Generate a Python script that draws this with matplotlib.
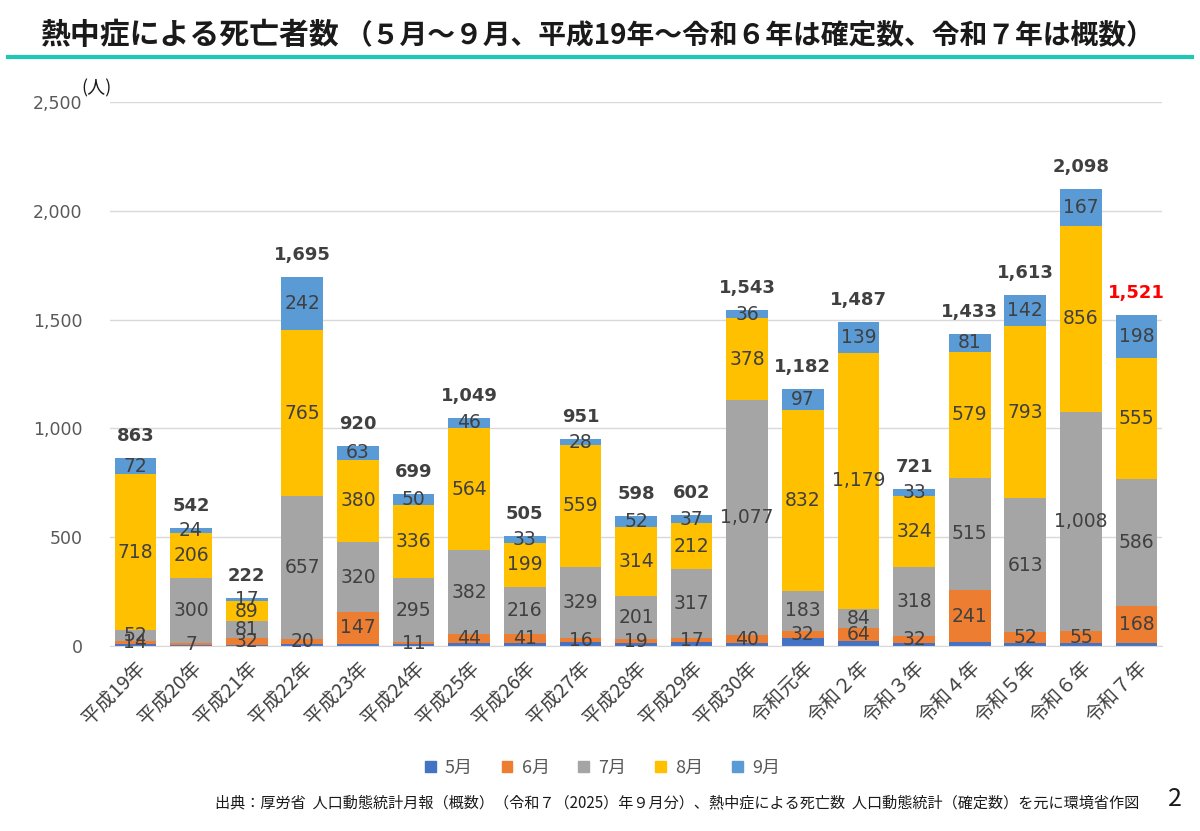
import matplotlib
matplotlib.use("Agg")
import matplotlib.pyplot as plt
import numpy as np
from matplotlib.lines import Line2D

plt.rcParams['font.family'] = ['Noto Sans CJK JP', 'DejaVu Sans']

# data (deaths by month, May-Sep)
years = ['平成19年', '平成20年', '平成21年', '平成22年', '平成23年', '平成24年', '平成25年',
         '平成26年', '平成27年', '平成28年', '平成29年', '平成30年', '令和元年', '令和２年',
         '令和３年', '令和４年', '令和５年', '令和６年', '令和７年']
may = [7, 5, 3, 11, 10, 7, 13, 16, 19, 12, 19, 12, 38, 21, 14, 17, 13, 12, 14]
jun = [14, 7, 32, 20, 147, 11, 44, 41, 16, 19, 17, 40, 32, 64, 32, 241, 52, 55, 168]
jul = [52, 300, 81, 657, 320, 295, 382, 216, 329, 201, 317, 1077, 183, 84, 318, 515, 613, 1008, 586]
aug = [718, 206, 89, 765, 380, 336, 564, 199, 559, 314, 212, 378, 832, 1179, 324, 579, 793, 856, 555]
sep = [72, 24, 17, 242, 63, 50, 46, 33, 28, 52, 37, 36, 97, 139, 33, 81, 142, 167, 198]
totals = [863, 542, 222, 1695, 920, 699, 1049, 505, 951, 598, 602, 1543, 1182, 1487, 721, 1433, 1613, 2098, 1521]

months = ['5月', '6月', '7月', '8月', '9月']
colors = ['#4472C4', '#ED7D31', '#A5A5A5', '#FFC000', '#5B9BD5']
series = [may, jun, jul, aug, sep]

fig = plt.figure(figsize=(12, 8.31), dpi=100)
ax = fig.add_axes([0.092, 0.2226, 0.876, 0.6547])

x = np.arange(len(years))
bottom = np.zeros(len(years))
label_col = '#404040'
for i, (vals, c) in enumerate(zip(series, colors)):
    vals = np.array(vals)
    ax.bar(x, vals, 0.75, bottom=bottom, color=c, zorder=2)
    if i > 0:
        for xi, b, v in zip(x, bottom, vals):
            ax.text(xi, b + v / 2, f'{v:,}', ha='center', va='center',
                    fontsize=13.5, color=label_col, family='DejaVu Sans', zorder=3)
    bottom = bottom + vals

for xi, t in enumerate(totals):
    col = '#FF0000' if xi == len(totals) - 1 else label_col
    ax.text(xi, t + 60, f'{t:,}', ha='center', va='bottom', fontsize=13,
            fontweight='bold', color=col, family='DejaVu Sans')

ax.set_ylim(0, 2500)
ax.set_xlim(-0.45, len(years) - 0.55)
ax.set_yticks(np.arange(0, 2501, 500))
ax.set_yticklabels([f'{v:,}' for v in range(0, 2501, 500)], color='#595959',
                   fontsize=12.5, family='DejaVu Sans')
ax.yaxis.grid(True, color='#D9D9D9', linewidth=1, zorder=0)
ax.set_axisbelow(True)
ax.tick_params(axis='y', length=0, pad=20)
ax.tick_params(axis='x', length=0, pad=8)
ax.set_xticks(x)
ax.set_xticklabels(years, rotation=45, ha='right', rotation_mode='anchor',
                   fontsize=14, color='#404040')
for s in ['top', 'right', 'left']:
    ax.spines[s].set_visible(False)
ax.spines['bottom'].set_color('#D9D9D9')

fig.text(0.068, 0.888, '(人)', fontsize=13, color='#1a1a1a')

# title
fig.text(0.033, 0.958, '熱中症による死亡者数', fontsize=21.5, fontweight='bold',
         color='#1a1a1a', va='center')
fig.text(0.287, 0.958, '（５月～９月、平成19年～令和６年は確定数、令和７年は概数）',
         fontsize=20, fontweight='bold', color='#1a1a1a', va='center')
fig.add_artist(Line2D([0.007, 0.993], [0.931, 0.931], color='#1EC8B5', linewidth=3))

# legend
handles = [plt.Rectangle((0, 0), 1, 1, color=c) for c in colors]
fig.legend(handles, months, loc='center', bbox_to_anchor=(0.502, 0.076), ncol=5,
           frameon=False, fontsize=13, handlelength=0.6, handleheight=0.6,
           columnspacing=1.6, handletextpad=0.5, labelcolor='#595959')

fig.text(0.179, 0.034, '出典：厚労省  人口動態統計月報（概数）（令和７（2025）年９月分）、熱中症による死亡数  人口動態統計（確定数）を元に環境省作図',
         fontsize=10.9, color='#1a1a1a', va='center')
fig.text(0.979, 0.038, '2', fontsize=18, color='#1a1a1a', va='center', ha='center')

fig.savefig('out.png', dpi=100)
